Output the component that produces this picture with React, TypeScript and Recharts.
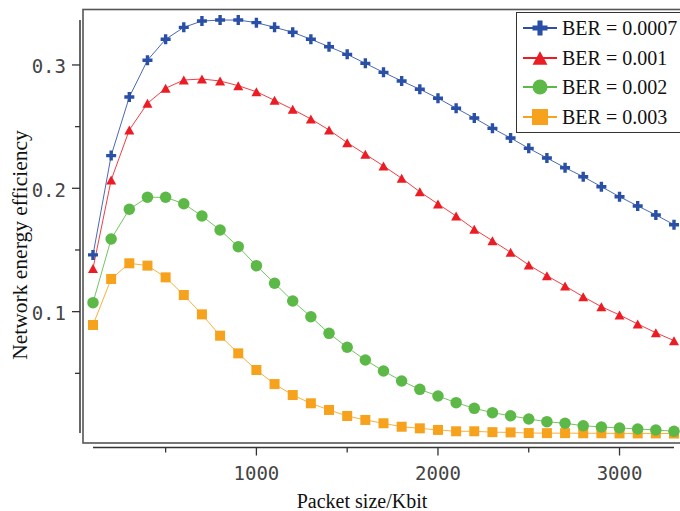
import React from 'react';
import { LineChart, Line, XAxis, YAxis, Legend } from 'recharts';

// ---------- data ----------
const packetSizes = [
  100, 200, 300, 400, 500, 600, 700, 800, 900, 1000, 1100, 1200, 1300, 1400, 1500, 1600, 1700,
  1800, 1900, 2000, 2100, 2200, 2300, 2400, 2500, 2600, 2700, 2800, 2900, 3000, 3100, 3200, 3300,
];
const ber0007 = [
  0.146, 0.2265, 0.274, 0.3038, 0.3208, 0.3305, 0.3356, 0.3364, 0.3364, 0.3343, 0.3305, 0.3265,
  0.3208, 0.3148, 0.3086, 0.3013, 0.294, 0.287, 0.2803, 0.273, 0.2649, 0.257, 0.2486, 0.2408,
  0.2324, 0.2246, 0.2167, 0.2094, 0.2013, 0.1932, 0.1857, 0.1784, 0.1705,
];
const ber001 = [
  0.135, 0.2067, 0.2473, 0.2689, 0.2811, 0.2878, 0.2886, 0.287, 0.2832, 0.2783, 0.2713, 0.264,
  0.2562, 0.2473, 0.237, 0.2276, 0.2181, 0.2081, 0.1972, 0.1873, 0.1775, 0.1668, 0.1575, 0.1481,
  0.1378, 0.1291, 0.1208, 0.1121, 0.104, 0.0973, 0.09, 0.0829, 0.0765,
];
const ber002 = [
  0.1073, 0.1589, 0.183, 0.1927, 0.1927, 0.1875, 0.1775, 0.1662, 0.1527, 0.1373, 0.123, 0.1086,
  0.0959, 0.0824, 0.0711, 0.0608, 0.0519, 0.0438, 0.037, 0.0316, 0.0262, 0.0216, 0.0181, 0.0156,
  0.013, 0.0108, 0.0095, 0.0075, 0.0065, 0.0057, 0.0049, 0.0041, 0.003,
];
const ber003 = [
  0.0892, 0.1265, 0.1392, 0.1373, 0.1278, 0.1135, 0.0978, 0.0805, 0.0662, 0.0527, 0.0413, 0.0324,
  0.0257, 0.0203, 0.0154, 0.0122, 0.0095, 0.0067, 0.0054, 0.0041, 0.003, 0.003, 0.0023, 0.0021,
  0.0016, 0.0015, 0.0015, 0.0014, 0.0014, 0.0013, 0.0013, 0.0013, 0.0012,
];
const seriesNames = ['BER = 0.0007', 'BER = 0.001', 'BER = 0.002', 'BER = 0.003'];
const xTicks = [500, 1000, 1500, 2000, 2500, 3000];
const xLabeledTicks = [1000, 2000, 3000];
const yTicks = [0.05, 0.1, 0.15, 0.2, 0.25, 0.3];
const yLabeledTicks = [0.1, 0.2, 0.3];
const xTitle = 'Packet size/Kbit';
const yTitle = 'Network energy efficiency';

const data = packetSizes.map((x, i) => ({
  x,
  s0: ber0007[i],
  s1: ber001[i],
  s2: ber002[i],
  s3: ber003[i],
}));

type Shape = 'plus' | 'triangle' | 'circle' | 'square';
const SERIES: { key: string; name: string; color: string; shape: Shape; size: number; legendSize: number }[] = [
  { key: 's0', name: seriesNames[0], color: '#2a4fa6', shape: 'plus', size: 10, legendSize: 15 },
  { key: 's1', name: seriesNames[1], color: '#ec1c24', shape: 'triangle', size: 10, legendSize: 15 },
  { key: 's2', name: seriesNames[2], color: '#5db947', shape: 'circle', size: 11.5, legendSize: 15 },
  { key: 's3', name: seriesNames[3], color: '#f7a21d', shape: 'square', size: 10, legendSize: 16 },
];

// ---------- layout ----------
const W = 680;
const H = 511;
const PLOT_LEFT = 93;
const PLOT_RIGHT = 674;
const PLOT_TOP = 10;
const PLOT_BOTTOM = 435;
const Y_MAX = 0.34455;
const Y_AXIS_X = 80;
const X_AXIS_Y = 447.5;
const TICK_FONT = '"DejaVu Sans Mono", monospace';
const SERIF = '"Liberation Serif", "Times New Roman", serif';

function Marker({ shape, cx, cy, color, size }: { shape: Shape; cx: number; cy: number; color: string; size: number }) {
  if (cx == null || cy == null || isNaN(cx) || isNaN(cy)) return null;
  const a = size / 2;
  if (shape === 'plus') {
    const t = size * 0.17;
    const d = `M${cx - t},${cy - a}H${cx + t}V${cy - t}H${cx + a}V${cy + t}H${cx + t}V${cy + a}H${cx - t}V${cy + t}H${cx - a}V${cy - t}H${cx - t}Z`;
    return <path d={d} fill={color} />;
  }
  if (shape === 'triangle') {
    const h = size * 0.9;
    return (
      <polygon
        points={`${cx},${cy - h / 2} ${cx + a},${cy + h / 2} ${cx - a},${cy + h / 2}`}
        fill={color}
      />
    );
  }
  if (shape === 'circle') {
    return <circle cx={cx} cy={cy} r={a} fill={color} />;
  }
  return <rect x={cx - a} y={cy - a} width={size} height={size} fill={color} />;
}

const makeDot = (s: (typeof SERIES)[number]) => (props: any) => (
  <Marker key={`${s.key}-${props.index}`} shape={s.shape} cx={props.cx} cy={props.cy} color={s.color} size={s.size} />
);

const XTick = (props: any) => {
  const { x, payload } = props;
  const major = xLabeledTicks.includes(payload.value);
  return (
    <g>
      <line x1={x} x2={x} y1={X_AXIS_Y} y2={X_AXIS_Y + (major ? 8 : 5)} stroke="#333" strokeWidth={1.3} />
      {major && (
        <text x={x} y={480} textAnchor="middle" fontFamily={TICK_FONT} fontSize={19} fill="#444">
          {payload.value}
        </text>
      )}
    </g>
  );
};

const YTick = (props: any) => {
  const { y, payload } = props;
  const major = yLabeledTicks.some((v) => Math.abs(v - payload.value) < 1e-9);
  return (
    <g>
      <line x1={Y_AXIS_X - (major ? 8 : 5)} x2={Y_AXIS_X} y1={y} y2={y} stroke="#333" strokeWidth={1.3} />
      {major && (
        <text x={66} y={y + 8.5} textAnchor="end" fontFamily={TICK_FONT} fontSize={19} fill="#444">
          {payload.value.toFixed(1)}
        </text>
      )}
    </g>
  );
};

const LegendBox = () => (
  <div
    style={{
      border: '1.5px solid #333',
      background: '#fff',
      width: 172,
      boxSizing: 'border-box',
    }}
  >
    {SERIES.map((s) => (
      <div key={s.key} style={{ display: 'flex', alignItems: 'center', height: 29.7 }}>
        <svg width={36} height={24} style={{ marginLeft: 5, display: 'block', overflow: 'visible' }}>
          <line x1={1} x2={35} y1={12} y2={12} stroke={s.color} strokeWidth={2} />
          <Marker shape={s.shape} cx={18} cy={12} color={s.color} size={s.legendSize} />
        </svg>
        <span
          style={{
            marginLeft: 4,
            fontFamily: SERIF,
            fontSize: 20,
            color: '#111',
            lineHeight: '24px',
            whiteSpace: 'nowrap',
          }}
        >
          {s.name}
        </span>
      </div>
    ))}
  </div>
);

export default function App() {
  return (
    <div style={{ position: 'relative', width: W, height: H, overflow: 'hidden', background: '#fff' }}>
      <style>{'body{margin:0;}'}</style>
      <svg width={W} height={H} style={{ position: 'absolute', left: 0, top: 0 }}>
        <rect x={83} y={9.5} width={620} height={433.5} fill="none" stroke="#555" strokeWidth={1.6} />
        <line x1={Y_AXIS_X} x2={Y_AXIS_X} y1={20} y2={433} stroke="#333" strokeWidth={1.5} />
        <line x1={PLOT_LEFT} x2={PLOT_RIGHT} y1={X_AXIS_Y} y2={X_AXIS_Y} stroke="#333" strokeWidth={1.5} />
        <text x={362} y={508} textAnchor="middle" fontFamily={SERIF} fontSize={20} fill="#111">
          {xTitle}
        </text>
        <text
          x={27}
          y={245}
          transform="rotate(-90 27 245)"
          textAnchor="middle"
          fontFamily={SERIF}
          fontSize={21.5}
          fill="#111"
        >
          {yTitle}
        </text>
      </svg>
      <div style={{ position: 'absolute', left: 0, top: 0 }}>
        <LineChart
          width={W}
          height={H}
          data={data}
          margin={{ top: PLOT_TOP, right: W - PLOT_RIGHT, bottom: 0, left: PLOT_LEFT - 80 }}
        >
          <XAxis
            dataKey="x"
            type="number"
            domain={[100, 3300]}
            ticks={xTicks}
            interval={0}
            height={H - PLOT_BOTTOM}
            axisLine={false}
            tickLine={false}
            tick={XTick}
          />
          <YAxis
            type="number"
            domain={[0, Y_MAX]}
            ticks={yTicks}
            interval={0}
            width={80}
            axisLine={false}
            tickLine={false}
            tick={YTick}
          />
          <Legend
            layout="vertical"
            align="center"
            verticalAlign="middle"
            content={LegendBox}
            wrapperStyle={{ top: 12, left: 516, width: 172, height: 'auto' }}
          />
          {[...SERIES].reverse().map((s) => (
            <Line
              key={s.key}
              dataKey={s.key}
              name={s.name}
              type="linear"
              stroke={s.color}
              strokeWidth={1}
              strokeOpacity={0.85}
              dot={makeDot(s)}
              activeDot={false}
              isAnimationActive={false}
            />
          ))}
        </LineChart>
      </div>
    </div>
  );
}
